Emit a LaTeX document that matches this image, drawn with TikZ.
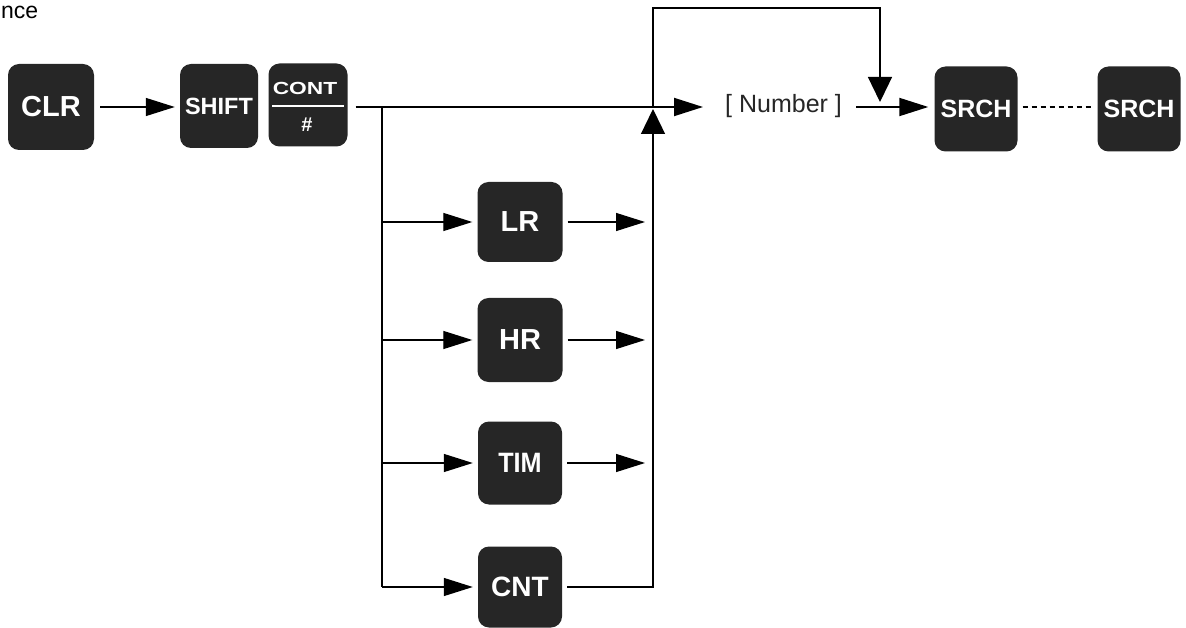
\documentclass[tikz,border=0pt]{standalone}
\usepackage{fontspec}
\setmainfont{Liberation Sans}
\usetikzlibrary{arrows.meta}
\tikzset{
  key/.style={fill=black!85, rounded corners=11pt, minimum width=84pt, minimum height=83pt,
    text=white, font=\bfseries\fontsize{29}{30}\selectfont, inner sep=0pt},
  ln/.style={line width=1.3pt},
  mainln/.style={line width=1.9pt},
  arr/.style={-{Triangle[length=29pt,width=18pt]}},
  varr/.style={-{Triangle[length=25pt,width=24pt]}},
}
\begin{document}
\begin{tikzpicture}[x=1pt,y=-1pt]
\useasboundingbox (0,0) rectangle (1186,628);

% title fragment
\node[anchor=base west, inner sep=0pt, font=\fontsize{23}{24}\selectfont] (title) at (1,19) {nce};

% keys
\node[key, minimum width=86pt, minimum height=86pt] (clr) at (51,107) {CLR};
\node[key, minimum width=78pt, minimum height=84pt, font=\bfseries\fontsize{23.5}{24}\selectfont] (shift) at (219,106) {SHIFT};
\node[key, minimum width=79pt, minimum height=83pt] (cont) at (308,105) {};
\node[text=white, inner sep=0pt, font=\bfseries\fontsize{17.5}{18}\selectfont] (conttxt) at (305,88) {\scalebox{1.3}[1]{CONT}};
\node[text=white, inner sep=0pt, font=\bfseries\fontsize{20}{20}\selectfont] (hash) at (307,125) {\#};
\draw[white, line width=2pt] ([xshift=4pt,yshift=-1pt]cont.west) -- ([xshift=-4pt,yshift=-1pt]cont.east);

\node[key, minimum width=85pt, minimum height=80pt] (lr) at (520,222) {LR};
\node[key, minimum width=85pt, minimum height=84pt] (hr) at (520,340) {HR};
\node[key, minimum width=84pt, minimum height=83pt, font=\bfseries\fontsize{28}{30}\selectfont] (tim) at (520,463) {\scalebox{0.9}[1]{TIM}};
\node[key, minimum width=84pt, minimum height=81pt, font=\bfseries\fontsize{28}{30}\selectfont] (cnt) at (520,587) {CNT};

\node[anchor=west, inner sep=0pt, text=black!85, font=\fontsize{25}{26}\selectfont] (num) at (725,106) {[ Number ]};

\node[key, minimum width=83pt, minimum height=85pt, font=\bfseries\fontsize{25}{26}\selectfont] (srch1) at (976,109) {SRCH};
\node[key, minimum width=83pt, minimum height=85pt, font=\bfseries\fontsize{25}{26}\selectfont] (srch2) at (1139,109) {SRCH};

% junction coordinates
\coordinate (jl) at (382,107);
\coordinate (jr) at (653,107);
\coordinate (tl) at (653,8);
\coordinate (tr) at (880,8);
\coordinate (m) at (880,107);

% connectors
\draw[ln, arr, shorten <=6pt, shorten >=5pt] (clr.east |- 0,107) -- (shift.west |- 0,107);
\draw[mainln, arr, shorten <=8pt, shorten >=22pt] (cont.east |- jr) -- (num.west |- jr);
\draw[ln] (jl) -- (jl |- cnt);
\foreach \k in {lr,hr,tim,cnt}{
  \draw[ln, arr, shorten >=5pt] (jl |- \k) -- (\k.west);
}
\foreach \k in {lr,hr,tim}{
  \draw[ln, arr, shorten <=5pt, shorten >=8pt] (\k.east) -- (jr |- \k);
}
\draw[ln, varr, shorten <=5pt, shorten >=2pt] (cnt.east) -- (jr |- cnt) -- (jr);
\draw[ln, varr, shorten >=5pt] (jr) -- (tl) -- (tr) -- (m);
\draw[mainln, arr, shorten <=14pt, shorten >=6pt] (num.east |- m) -- (srch1.west |- m);
\draw[ln, dash pattern=on 5pt off 4pt] ([xshift=5pt]srch1.east |- m) -- ([xshift=-5pt]srch2.west |- m);
\end{tikzpicture}
\end{document}
